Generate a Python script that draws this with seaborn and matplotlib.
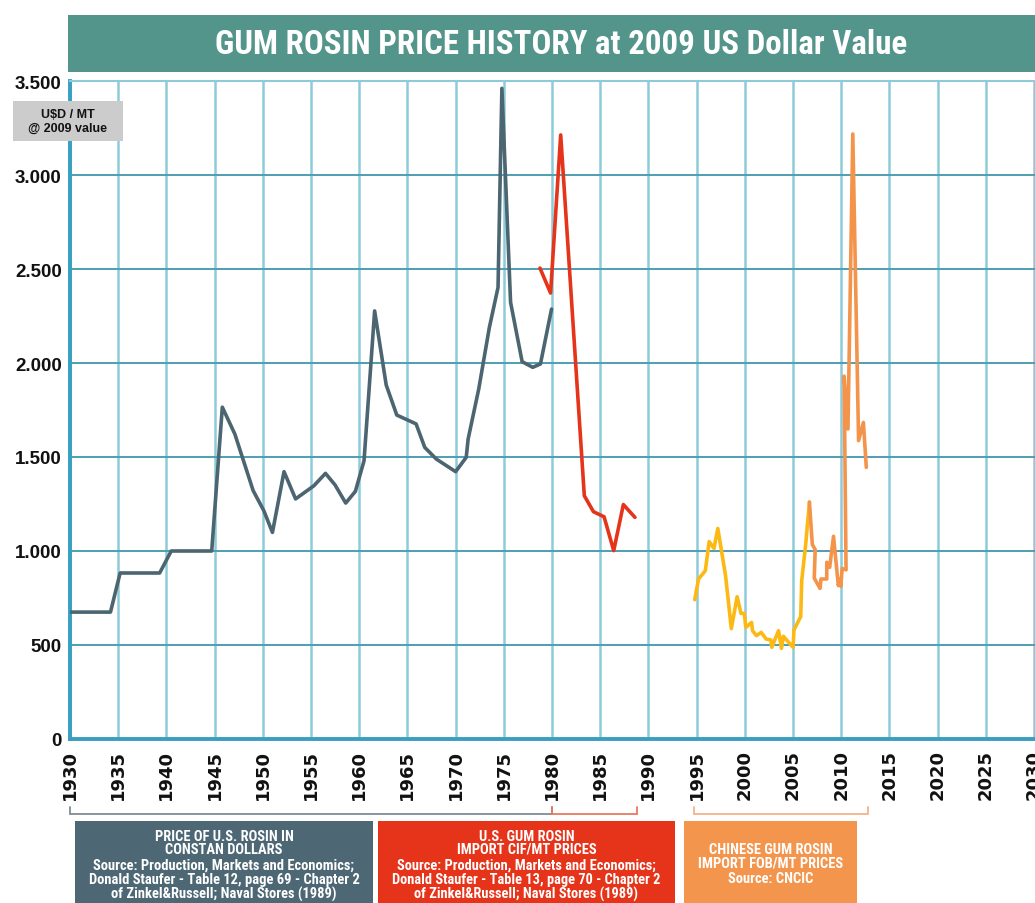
import matplotlib
matplotlib.use("Agg")
import matplotlib.pyplot as plt
import seaborn as sns
import pandas as pd
from matplotlib import font_manager as fm
from matplotlib.patches import Rectangle
from matplotlib.transforms import blended_transform_factory

# ---------------- data ----------------
us_years = [1930, 1934.2, 1935.2, 1939.3, 1940.5, 1944.7, 1945.8, 1947.1, 1949.0, 1950.1,
            1951.0, 1952.2, 1953.4, 1955.3, 1956.5, 1957.5, 1958.6, 1959.6, 1960.5, 1961.6,
            1962.8, 1963.9, 1965.9, 1966.8, 1968.0, 1970.0, 1971.1, 1971.3, 1972.4, 1973.5,
            1974.4, 1974.8, 1975.7, 1976.9, 1978.0, 1978.8, 1979.95]
us_price = [675, 675, 883, 883, 1000, 1000, 1765, 1622, 1321, 1215,
            1099, 1422, 1277, 1347, 1413, 1351, 1255, 1317, 1480, 2277,
            1883, 1723, 1676, 1551, 1489, 1422, 1498, 1596, 1862, 2189,
            2402, 3461, 2323, 2007, 1977, 1995, 2287]

imp_years = [1978.75, 1979.85, 1980.9, 1983.35, 1984.3, 1985.4, 1986.4, 1987.4, 1988.6]
imp_price = [2505, 2372, 3213, 1294, 1209, 1182, 1002, 1247, 1179]

cn_years = [1994.8, 1995.2, 1995.9, 1996.3, 1996.8, 1997.2, 1998.0, 1998.6, 1999.2, 1999.6,
            1999.95, 2000.1, 2000.7, 2000.8, 2001.2, 2001.7, 2002.2, 2002.7, 2002.8, 2003.5,
            2003.8, 2004.0, 2005.0, 2005.1, 2005.8, 2005.9, 2006.3, 2006.7]
cn_price = [741, 851, 895, 1050, 1014, 1120, 869, 587, 757, 668,
            668, 594, 620, 576, 550, 567, 532, 527, 488, 576,
            482, 546, 488, 580, 652, 842, 1028, 1260]

cn2_years = [2006.7, 2007.0, 2007.3, 2007.2, 2007.8, 2007.9, 2008.5, 2008.5, 2008.8, 2009.2,
             2009.7, 2009.85, 2009.95, 2010.1, 2010.5, 2010.3, 2010.7, 2011.2, 2011.8, 2012.3,
             2012.6]
cn2_price = [1260, 1035, 1007, 856, 801, 851, 851, 940, 913, 1078,
             816, 850, 812, 907, 900, 1930, 1649, 3218, 1587, 1684,
             1445]

x_ticks = list(range(1930, 2031, 5))
x_labels = [str(y) for y in x_ticks]
y_ticks = [0, 500, 1000, 1500, 2000, 2500, 3000, 3500]
y_labels = ["0", "500", "1.000", "1.500", "2.000", "2.500", "3.000", "3.500"]

title = "GUM ROSIN PRICE HISTORY at 2009 US Dollar Value"
unit_label = "U$D / MT\n@ 2009 value"

box1_lines = ["PRICE OF U.S. ROSIN IN", "CONSTAN DOLLARS",
              "Source: Production, Markets and Economics;",
              "Donald Staufer - Table 12, page 69 - Chapter 2",
              "of Zinkel&Russell; Naval Stores (1989)"]
box2_lines = ["U.S. GUM ROSIN", "IMPORT CIF/MT PRICES",
              "Source: Production, Markets and Economics;",
              "Donald Staufer - Table 13, page 70 - Chapter 2",
              "of Zinkel&Russell; Naval Stores (1989)"]
box3_lines = ["CHINESE GUM ROSIN", "IMPORT FOB/MT PRICES", "Source: CNCIC"]

bracket_spans = [(1930, 1980), (1980, 1988.8), (1994.7, 2012.8)]

C_GREY = "#4B6571"
C_RED = "#E5341A"
C_YEL = "#FDB913"
C_ORA = "#F4944B"
C_TEAL = "#53958A"

# ---------------- fonts ----------------
sns.set_style("white")
names = {f.name for f in fm.fontManager.ttflist}
SANS = "Liberation Sans" if "Liberation Sans" in names else "DejaVu Sans"
plt.rcParams["font.family"] = [SANS, "DejaVu Sans"]


def find_condensed_bold():
    prefs = ["liberationsansnarrow-bold", "robotocondensed-bold", "opensanscondensed-bold",
             "opensans_condensed-bold", "dejavusanscondensed-bold"]
    files = [f.fname for f in fm.fontManager.ttflist]
    low = {p.lower().replace(" ", "").replace("_", "").split("/")[-1]: p for p in files}
    for pref in prefs:
        key = pref.replace("_", "")
        for k, p in low.items():
            if k.startswith(key):
                return p
    for f in fm.fontManager.ttflist:
        n = (f.name + f.fname).lower()
        if ("condensed" in n or "narrow" in n) and ("bold" in f.fname.lower()) \
                and "italic" not in f.fname.lower() and "oblique" not in f.fname.lower():
            return f.fname
    return None


COND_FILE = find_condensed_bold()


def cond_fp(size):
    if COND_FILE:
        return fm.FontProperties(fname=COND_FILE, size=size)
    return fm.FontProperties(family="DejaVu Sans", weight="bold", size=size)


W, H = 1035, 904
fig = plt.figure(figsize=(W / 100, H / 100), dpi=100)
fig.patch.set_facecolor("white")
renderer = fig.canvas.get_renderer()


def fx(px):
    return px / W


def fy(py):
    return 1 - py / H


def fit_size(lines, target_px, base=10.0):
    t = fig.text(0, 0, "", fontproperties=cond_fp(base))
    wmax = 0
    for ln in lines:
        t.set_text(ln)
        wmax = max(wmax, t.get_window_extent(renderer).width)
    t.remove()
    return base * target_px / wmax


ax = fig.add_axes([fx(70), fy(740), 1 - fx(70), (740 - 82) / H])

df = pd.concat([
    pd.DataFrame({"year": us_years, "price": us_price, "series": "us"}),
    pd.DataFrame({"year": imp_years, "price": imp_price, "series": "imp"}),
    pd.DataFrame({"year": cn_years, "price": cn_price, "series": "cn"}),
    pd.DataFrame({"year": cn2_years, "price": cn2_price, "series": "cn2"}),
], ignore_index=True)
palette = {"us": C_GREY, "imp": C_RED, "cn": C_YEL, "cn2": C_ORA}
sns.lineplot(data=df, x="year", y="price", hue="series", palette=palette,
             sort=False, estimator=None, legend=False, lw=2.6, ax=ax, zorder=3)

ax.set_xlim(1930, 2030.1)
ax.set_ylim(0, 3500)
ax.set_xlabel("")
ax.set_ylabel("")
ax.set_xticks(x_ticks)
ax.set_xticklabels(x_labels, rotation=90, fontfamily="DejaVu Sans",
                   fontweight="bold", fontsize=13, color="#111111")
ax.set_yticks(y_ticks)
ax.set_yticklabels(y_labels, fontweight="bold", fontsize=13.5, color="#111111")
ax.tick_params(length=0)
ax.tick_params(axis="x", pad=7)
ax.tick_params(axis="y", pad=6)

ax.set_axisbelow(True)
ax.xaxis.grid(True, color="#8DCBDB", lw=1.8)
ax.yaxis.grid(True, color="#4F9EB3", lw=1.4)

ax.spines["right"].set_visible(False)
ax.spines["top"].set_color("#8DCBDB")
ax.spines["top"].set_linewidth(1.5)
ax.spines["left"].set_color("#35A0C2")
ax.spines["left"].set_linewidth(2.8)
ax.spines["bottom"].set_color("#3A9EBE")
ax.spines["bottom"].set_linewidth(2.8)

# title bar
fig.patches.append(Rectangle((fx(68), fy(73)), fx(1035 - 68), 57 / H,
                             transform=fig.transFigure, facecolor=C_TEAL,
                             edgecolor="none", zorder=0))
tsize = min(fit_size([title], 692, 20), 24)
fig.text(fx(561), fy(45), title, ha="center", va="center", color="white",
         fontproperties=cond_fp(tsize))

# unit label box
fig.patches.append(Rectangle((fx(13), fy(142)), fx(110), 40 / H,
                             transform=fig.transFigure, facecolor="#CCCCCC",
                             edgecolor="none", zorder=5))
fig.text(fx(68), fy(122), unit_label, ha="center", va="center", color="#111111",
         fontweight="bold", fontsize=9, linespacing=1.15, zorder=6)

# brackets
tr = blended_transform_factory(ax.transData, fig.transFigure)
bcolors = ["#7D8E96", "#E8785F", "#F5B38A"]
for (a, b), c in zip(bracket_spans, bcolors):
    ax.plot([a, a, b, b], [fy(808), fy(815), fy(815), fy(808)], transform=tr,
            color=c, lw=1.3, clip_on=False, solid_joinstyle="miter")

# description boxes
boxes = [(75, 298, "#4D6874", box1_lines, [837, 850, 866, 880, 894]),
         (378, 297, C_RED, box2_lines, [837, 850, 866, 880, 894]),
         (684, 173, "#F3954C", box3_lines, [850, 864, 879])]
bsize = min(fit_size(box1_lines + box2_lines, 282, 10), 10.5)
for x0, w, col, lines, ys in boxes:
    fig.patches.append(Rectangle((fx(x0), 0), fx(w), fy(822),
                                 transform=fig.transFigure, facecolor=col,
                                 edgecolor="none", zorder=0))
    s = min(bsize, fit_size(lines, w - 28, 10))
    for ln, yy in zip(lines, ys):
        fig.text(fx(x0 + w / 2), fy(yy), ln, ha="center", va="center",
                 color="white", fontproperties=cond_fp(s))

fig.savefig("out.png", dpi=100)
